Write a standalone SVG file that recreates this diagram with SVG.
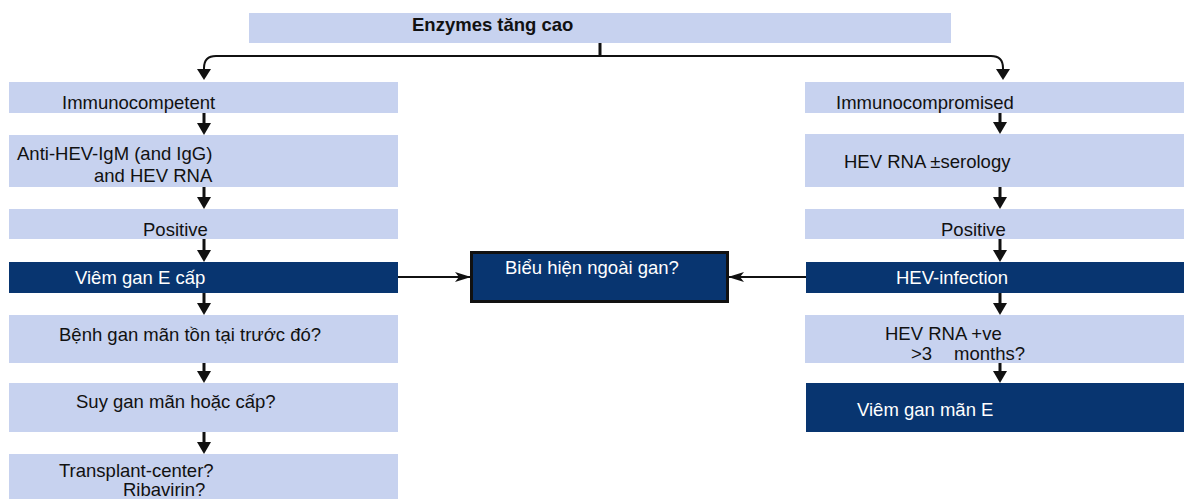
<svg xmlns="http://www.w3.org/2000/svg" width="1184" height="499" viewBox="0 0 1184 499">
<style>
.lb{fill:#C7D2EF}
.db{fill:#083570}
.t{font-family:"Liberation Sans",Arial,sans-serif;font-size:18.5px;fill:#111}
.w{font-family:"Liberation Sans",Arial,sans-serif;font-size:18.5px;fill:#fff}
.tb{font-family:"Liberation Sans",Arial,sans-serif;font-size:18.5px;font-weight:bold;fill:#111}
.st{stroke:#111;stroke-width:3;fill:none}
.ln{stroke:#111;stroke-width:2;fill:none}
.ah{fill:#111}
</style>
<defs>
<marker id="stealth" markerWidth="16" markerHeight="12" refX="15" refY="6" orient="auto" markerUnits="userSpaceOnUse">
<path d="M0,1 L16,6 L0,11 L4,6 Z" fill="#111"/>
</marker>
</defs>
<g id="n-top"><rect class="lb" x="249" y="13" width="702" height="30"/><text class="tb" x="412" y="31">Enzymes tăng cao</text></g>
<g id="n-l1"><rect class="lb" x="9" y="82" width="389" height="31"/><text class="t" x="62" y="109">Immunocompetent</text></g>
<g id="n-l2"><rect class="lb" x="9" y="135" width="389" height="52"/><text class="t" x="17" y="160">Anti-HEV-IgM (and IgG)</text><text class="t" x="94" y="182">and HEV RNA</text></g>
<g id="n-l3"><rect class="lb" x="9" y="209" width="389" height="30"/><text class="t" x="143" y="236">Positive</text></g>
<g id="n-l4"><rect class="db" x="9" y="262" width="389" height="31"/><text class="w" x="75" y="284">Viêm gan E cấp</text></g>
<g id="n-l5"><rect class="lb" x="9" y="315" width="389" height="48"/><text class="t" x="59" y="341">Bệnh gan mãn tồn tại trước đó?</text></g>
<g id="n-l6"><rect class="lb" x="9" y="383" width="389" height="49"/><text class="t" x="76" y="408">Suy gan mãn hoặc cấp?</text></g>
<g id="n-l7"><rect class="lb" x="9" y="454" width="389" height="50"/><text class="t" x="59" y="477">Transplant-center?</text><text class="t" x="123" y="496">Ribavirin?</text></g>
<g id="n-r1"><rect class="lb" x="805" y="82" width="379" height="31"/><text class="t" x="836" y="109">Immunocompromised</text></g>
<g id="n-r2"><rect class="lb" x="805" y="134" width="379" height="53"/><text class="t" x="844" y="168">HEV RNA ±serology</text></g>
<g id="n-r3"><rect class="lb" x="805" y="209" width="379" height="30"/><text class="t" x="941" y="236">Positive</text></g>
<g id="n-r4"><rect class="db" x="806" y="262" width="378" height="31"/><text class="w" x="896" y="284">HEV-infection</text></g>
<g id="n-r5"><rect class="lb" x="805" y="315" width="379" height="48"/><text class="t" x="885" y="340">HEV RNA +ve</text><text class="t" x="911" y="360">&gt;3</text><text class="t" x="954" y="360">months?</text></g>
<g id="n-r6"><rect class="db" x="806" y="383" width="378" height="49"/><text class="w" x="857" y="416">Viêm gan mãn E</text></g>
<g id="n-mid"><rect class="db" x="471.5" y="252.5" width="256" height="49" stroke="#111" stroke-width="3"/><text class="w" x="505" y="274">Biểu hiện ngoài gan?</text></g>
<g id="connectors">
<path class="st" d="M600,43 V56"/>
<path class="ln" d="M204,70 V68 Q204,56 216,56 H991 Q1003,56 1003,68 V70"/>
<path class="ah" d="M197,69 L211,69 L204,80 Z"/>
<path class="ah" d="M996,69 L1010,69 L1003,80 Z"/>
<path class="st" d="M204,113 V124"/><path class="ah" d="M197,123 L211,123 L204,135 Z"/>
<path class="st" d="M204,187 V198"/><path class="ah" d="M197,197 L211,197 L204,209 Z"/>
<path class="st" d="M204,239 V251"/><path class="ah" d="M197,250 L211,250 L204,262 Z"/>
<path class="st" d="M204,293 V304"/><path class="ah" d="M197,303 L211,303 L204,315 Z"/>
<path class="st" d="M204,363 V372"/><path class="ah" d="M197,371 L211,371 L204,383 Z"/>
<path class="st" d="M204,432 V443"/><path class="ah" d="M197,442 L211,442 L204,454 Z"/>
<path class="st" d="M1000,113 V123"/><path class="ah" d="M993,122 L1007,122 L1000,134 Z"/>
<path class="st" d="M1000,187 V198"/><path class="ah" d="M993,197 L1007,197 L1000,209 Z"/>
<path class="st" d="M1000,239 V251"/><path class="ah" d="M993,250 L1007,250 L1000,262 Z"/>
<path class="st" d="M1000,293 V304"/><path class="ah" d="M993,303 L1007,303 L1000,315 Z"/>
<path class="st" d="M1000,363 V372"/><path class="ah" d="M993,371 L1007,371 L1000,383 Z"/>
<path class="ln" d="M398,277 H470" marker-end="url(#stealth)"/>
<path class="ln" d="M806,277 H729" marker-end="url(#stealth)"/>
</g>
</svg>
